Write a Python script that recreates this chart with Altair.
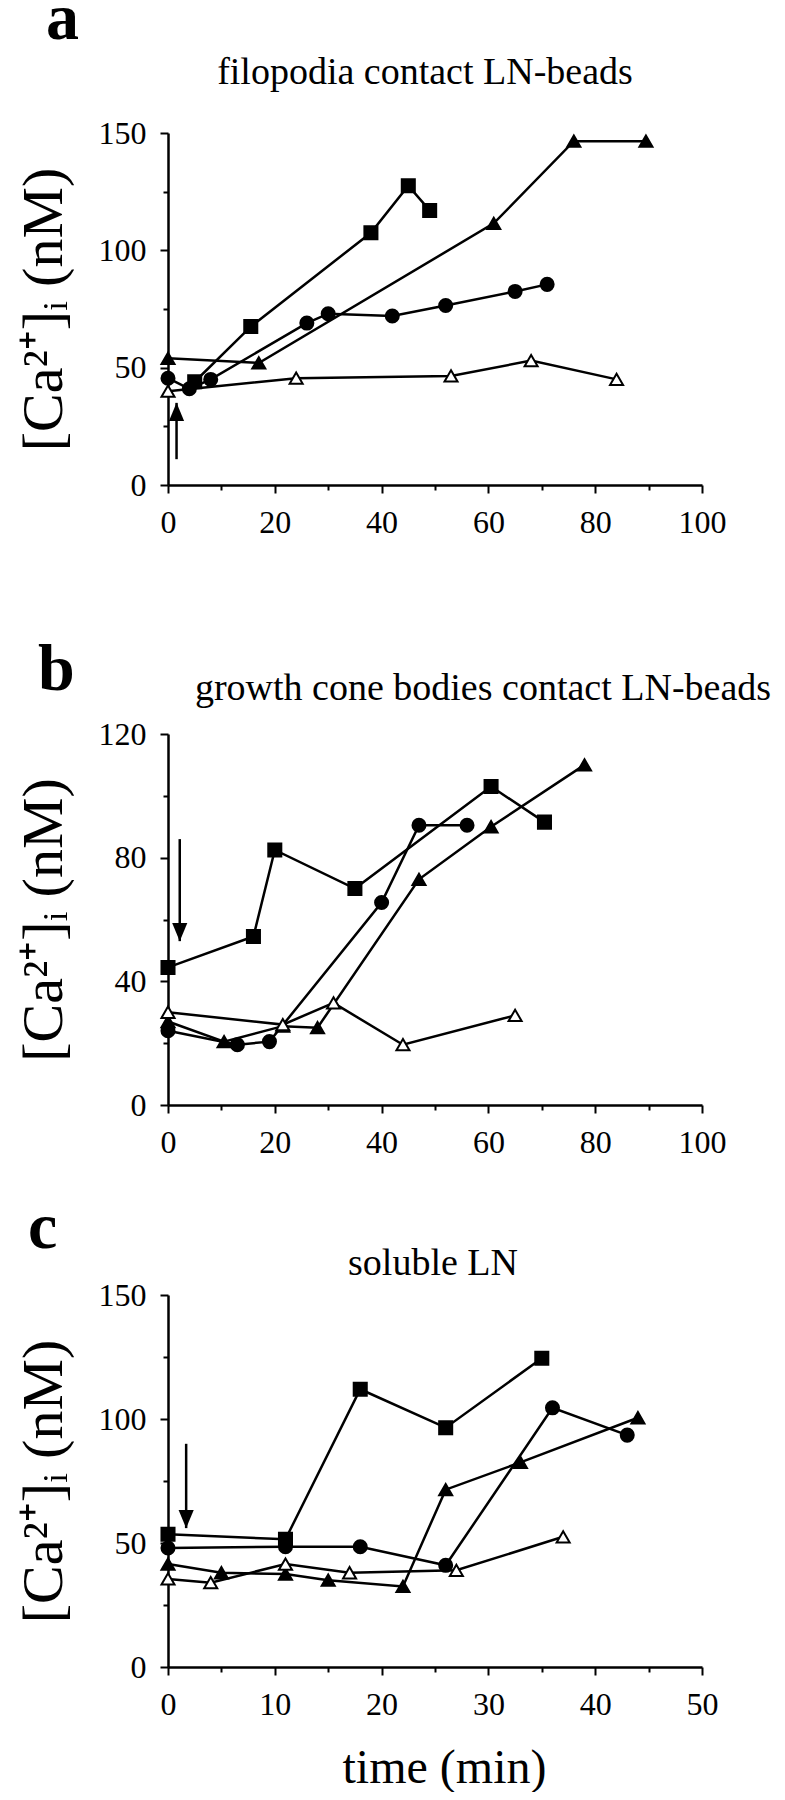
import altair as alt
import pandas as pd

# ---------------- data ----------------
# panel a: filopodia contact LN-beads
a_sq_x = [5, 15.5, 38, 45, 49]
a_sq_y = [44, 67.5, 107.5, 127.5, 117]
a_ci_x = [0, 4, 8, 26, 30, 42, 52, 65, 71]
a_ci_y = [45.5, 41, 45, 69, 73, 72, 76.5, 82.5, 85.5]
a_tf_x = [0, 17, 61, 76, 89.5]
a_tf_y = [54, 52, 111.5, 146.5, 146.5]
a_to_x = [0, 24, 53, 68, 84]
a_to_y = [40, 45.5, 46.5, 53, 45]

# panel b: growth cone bodies contact LN-beads
b_sq_x = [0, 16, 20, 35, 60.5, 70.5]
b_sq_y = [44.5, 54.5, 82.5, 70, 103, 91.5]
b_ci_x = [0, 13, 19, 40, 47, 56]
b_ci_y = [24, 19.5, 20.5, 65.5, 90.5, 90.5]
b_tf_x = [0, 10.5, 21.5, 28, 47, 60.5, 78]
b_tf_y = [27, 20.5, 25.5, 25, 73, 90, 110]
b_to_x = [0, 21.5, 31, 44, 65]
b_to_y = [30, 26, 33, 19.5, 29]

# panel c: soluble LN
c_sq_x = [0, 11, 18, 26, 35]
c_sq_y = [53.5, 51.5, 112, 96.5, 124.5]
c_ci_x = [0, 11, 18, 26, 36, 43]
c_ci_y = [48, 48.5, 48.5, 41, 104.5, 93.5]
c_tf_x = [0, 5, 11, 15, 22, 26, 33, 44]
c_tf_y = [41.5, 38, 37.5, 35, 32.5, 71.5, 82.5, 100.5]
c_to_x = [0, 4, 11, 17, 27, 37]
c_to_y = [35.5, 34, 41.5, 38, 39, 52.5]

# stimulus arrows: x, start y, tip y
a_arrow = [1.6, 11, 35]
b_arrow = [2.2, 86, 53]
c_arrow = [1.7, 90, 56]

series_names = ["sq", "ci", "tf", "to"]
titles = ["filopodia contact LN-beads",
          "growth cone bodies contact LN-beads",
          "soluble LN"]
letters = ["a", "b", "c"]
y_title = "[Ca²⁺]ᵢ (nM)"
x_title = "time (min)"

FONT = "Liberation Serif"
W = 534


def make_df(xs, ys):
    rows = []
    for name, (x, y) in zip(series_names, zip(xs, ys)):
        for i, (xx, yy) in enumerate(zip(x, y)):
            rows.append({"x": xx, "y": yy, "s": name, "o": i})
    return pd.DataFrame(rows)


def panel(df, arrow, ymax, ystep, ylabstep, xmax, xstep, xlabstep, height,
          letter, lx, ly, title, tx, ty, show_xtitle, head_up):
    yvals = list(range(0, ymax + 1, ystep))
    xvals = list(range(0, xmax + 1, xstep))
    xs = alt.Scale(domain=[0, xmax], nice=False, zero=True)
    ys = alt.Scale(domain=[0, ymax], nice=False, zero=True)
    common = dict(grid=False, domainColor="black", domainWidth=2.5,
                  tickColor="black", tickWidth=2, labelColor="black",
                  labelFont=FONT, labelFontSize=32, labelFlush=False,
                  labelOverlap=False, labelPadding=14,
                  titleFont=FONT, titleColor="black", titleFontWeight="normal")
    xextra = dict(titleX=W / 2 + 9) if show_xtitle else {}
    xaxis = alt.Axis(values=xvals,
                     labelExpr=f"datum.value % {xlabstep} == 0 ? datum.label : ''",
                     tickSize={"condition": {"test": f"datum.value % {xlabstep} == 0", "value": 8}, "value": 5},
                     title=x_title if show_xtitle else None,
                     titleFontSize=48, titlePadding=24, **xextra, **common)
    yaxis = alt.Axis(values=yvals,
                     labelExpr=f"datum.value % {ylabstep} == 0 ? datum.label : ''",
                     tickSize={"condition": {"test": f"datum.value % {ylabstep} == 0", "value": 8}, "value": 5},
                     title=y_title, titleFontSize=58, titlePadding=25, **common)

    base = alt.Chart(df)
    lines = base.mark_line(color="black", strokeWidth=2.5).encode(
        x=alt.X("x:Q", scale=xs, axis=xaxis),
        y=alt.Y("y:Q", scale=ys, axis=yaxis),
        detail="s:N", order="o:Q")
    pts = base.mark_point(filled=True, stroke="black", strokeWidth=2, opacity=1).encode(
        x=alt.X("x:Q", scale=xs),
        y=alt.Y("y:Q", scale=ys),
        shape=alt.Shape("s:N", scale=alt.Scale(domain=series_names,
                        range=["square", "circle", "triangle-up", "triangle-up"]), legend=None),
        fill=alt.Fill("s:N", scale=alt.Scale(domain=series_names,
                      range=["black", "black", "black", "white"]), legend=None),
        size=alt.Size("s:N", scale=alt.Scale(domain=series_names,
                      range=[170, 170, 260, 250]), legend=None))
    adf = pd.DataFrame({"ax": [arrow[0]], "y1": [arrow[1]], "y2": [arrow[2]]})
    shaft = alt.Chart(adf).mark_rule(color="black", strokeWidth=2.5).encode(
        x=alt.X("ax:Q", scale=xs), y=alt.Y("y1:Q", scale=ys), y2="y2:Q")
    head_path = "M0,0L-0.42,1L0.42,1Z" if head_up else "M0,0L-0.42,-1L0.42,-1Z"
    head = alt.Chart(adf).mark_point(shape=head_path, filled=True, color="black",
                                     size=1300, opacity=1, strokeWidth=0).encode(
        x=alt.X("ax:Q", scale=xs), y=alt.Y("y2:Q", scale=ys))
    tdf = pd.DataFrame({"t": [title], "l": [letter]})
    ttl = alt.Chart(tdf).mark_text(font=FONT, fontSize=38, align="center",
                                   baseline="alphabetic", color="black").encode(
        text="t:N", x=alt.value(tx), y=alt.value(ty))
    let = alt.Chart(tdf).mark_text(font=FONT, fontSize=66, fontWeight="bold", align="left",
                                   baseline="alphabetic", color="black").encode(
        text="l:N", x=alt.value(lx), y=alt.value(ly))
    return alt.layer(lines, shaft, head, pts, ttl, let).properties(width=W, height=height)


pa = panel(make_df([a_sq_x, a_ci_x, a_tf_x, a_to_x], [a_sq_y, a_ci_y, a_tf_y, a_to_y]),
           a_arrow, 150, 25, 50, 100, 10, 20, 352,
           "a", -122, -94, titles[0], 257, -49, False, True)
pb = panel(make_df([b_sq_x, b_ci_x, b_tf_x, b_to_x], [b_sq_y, b_ci_y, b_tf_y, b_to_y]),
           b_arrow, 120, 10, 40, 100, 10, 20, 371,
           "b", -130, -44, titles[1], 315, -34, False, False)
pc = panel(make_df([c_sq_x, c_ci_x, c_tf_x, c_to_x], [c_sq_y, c_ci_y, c_tf_y, c_to_y]),
           c_arrow, 150, 25, 50, 50, 5, 10, 372,
           "c", -140, -47, titles[2], 265, -20, True, False)


def spacer(h):
    return alt.Chart(pd.DataFrame({"v": [0]})).mark_point(opacity=0).encode(
        x=alt.X("v:Q", axis=None), y=alt.Y("v:Q", axis=None)).properties(width=W, height=h)


chart = alt.vconcat(pa, spacer(249), pb, spacer(190), pc, spacing=0, bounds="flush").properties(
    padding={"top": -22, "left": 7, "right": 0, "bottom": 0},
    background="white"
).configure_view(strokeWidth=0)

chart.save("out.html", embed_options={"renderer": "svg", "actions": False})
